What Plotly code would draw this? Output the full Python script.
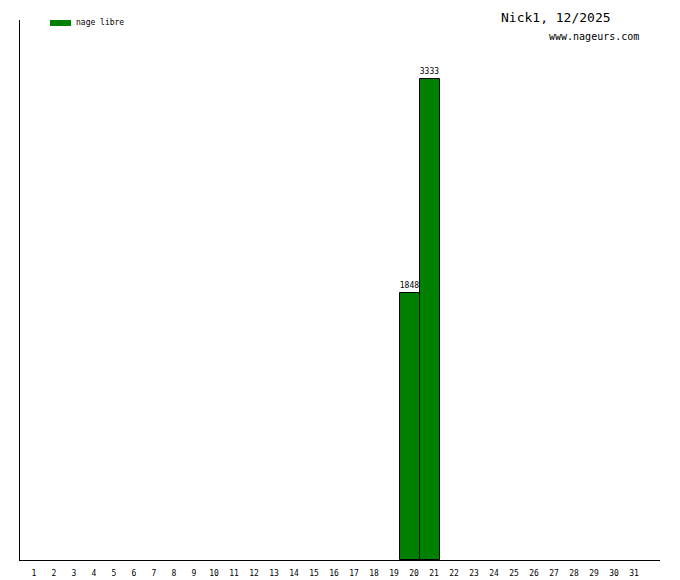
import plotly.graph_objects as go

days = list(range(1, 32))
values = [0]*19 + [1848, 3333] + [0]*10
series_name = "nage libre"
title_text = "Nick1, 12/2025"
site_text = "www.nageurs.com"

bx = [d for d, v in zip(days, values) if v > 0]
by = [v for v in values if v > 0]

fig = go.Figure()
fig.add_trace(go.Bar(
    x=bx, y=by, width=1,
    marker=dict(color="#008000", line=dict(color="black", width=1)),
    text=[str(v) for v in by], textposition="outside",
    textfont=dict(family="DejaVu Sans Mono", size=8, color="black"),
    cliponaxis=False, showlegend=False, name=series_name,
))

W, H = 680, 580
L, R, T, B = 20, 20, 20, 20
fig.update_layout(
    width=W, height=H,
    margin=dict(l=L, r=R, t=T, b=B, pad=0, autoexpand=False),
    paper_bgcolor="white", plot_bgcolor="white",
    bargap=0,
    xaxis=dict(range=[0.5, 32.5], tickmode="array", tickvals=days,
               ticktext=[str(d) for d in days], showgrid=False, zeroline=False,
               showline=True, linecolor="black", linewidth=1, ticks="",
               automargin=False,
               tickfont=dict(family="DejaVu Sans Mono", size=8, color="black"),
               ticklabelshift=4, ticklabelstandoff=5),
    yaxis=dict(range=[0, 3742], showgrid=False, zeroline=False,
               showline=True, linecolor="black", linewidth=1, ticks="",
               automargin=False, showticklabels=False),
    font=dict(family="DejaVu Sans Mono"),
)
# legend swatch
fig.add_shape(type="rect", xref="paper", yref="paper",
              x0=(50-L)/640, x1=(71-L)/640, y0=1-(26-T)/540, y1=1-(20-T)/540,
              fillcolor="#008000", line=dict(width=0))
fig.add_annotation(xref="paper", yref="paper", x=(74-L)/640, y=1-(23-T)/540,
                   text=series_name, showarrow=False, xanchor="left", yanchor="middle",
                   font=dict(family="DejaVu Sans Mono", size=8, color="black"))
fig.add_annotation(xref="paper", yref="paper", x=(556-L)/640, y=1-(18-T)/540,
                   text=title_text, showarrow=False, xanchor="center", yanchor="middle",
                   font=dict(family="DejaVu Sans Mono", size=13, color="black"))
fig.add_annotation(xref="paper", yref="paper", x=(594-L)/640, y=1-(37-T)/540,
                   text=site_text, showarrow=False, xanchor="center", yanchor="middle",
                   font=dict(family="DejaVu Sans Mono", size=10, color="black"))

fig.write_html("out.html", config={"displayModeBar": False},
               post_script="document.body.style.margin='0';document.body.style.overflow='hidden';")
